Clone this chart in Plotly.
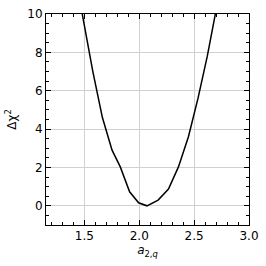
import plotly.graph_objects as go

a_vals = [1.40, 1.49, 1.577, 1.664, 1.752, 1.827, 1.912, 1.994, 2.07, 2.172, 2.266, 2.357, 2.448, 2.535, 2.62, 2.71]
dchi2 = [12.5, 9.7, 7.0, 4.6, 2.9, 2.03, 0.73, 0.16, 0.0, 0.3, 0.87, 2.03, 3.6, 5.6, 7.8, 10.5]

x_ticks = [1.5, 2.0, 2.5, 3.0]
y_ticks = [0, 2, 4, 6, 8, 10]

fig = go.Figure(go.Scatter(x=a_vals, y=dchi2, mode="lines",
                           line=dict(color="black", width=1.5), showlegend=False))

axis_common = dict(
    showline=True, linecolor="black", linewidth=1, mirror="allticks",
    ticks="inside", ticklen=5, tickwidth=1, tickcolor="black",
    showgrid=True, gridcolor="#d0d0d0", gridwidth=1, zeroline=False,
    tickfont=dict(family="DejaVu Sans", size=12, color="black"),
    automargin=False,
)

fig.update_xaxes(range=[1.15, 3.0], tickvals=x_ticks, tickformat=".1f",
                 minor=dict(ticks="inside", dtick=0.1, tick0=1.0, ticklen=3, tickcolor="black", showgrid=False),
                 title=dict(text="<i>a</i><sub>2,<i>q</i></sub>", font=dict(family="DejaVu Sans", size=12, color="black"), standoff=1),
                 **axis_common)
fig.update_yaxes(range=[-1, 10], tickvals=y_ticks,
                 minor=dict(ticks="inside", dtick=0.5, tick0=0, ticklen=3, tickcolor="black", showgrid=False),
                 title=dict(text="Δχ<sup>2</sup>", font=dict(family="DejaVu Sans", size=12, color="black"), standoff=8),
                 **axis_common)

fig.update_layout(width=266, height=266, margin=dict(l=46, r=17, t=14, b=41),
                  paper_bgcolor="white", plot_bgcolor="white")

fig.write_html("out.html", config={"displayModeBar": False},
               post_script="document.body.style.margin='0';")
